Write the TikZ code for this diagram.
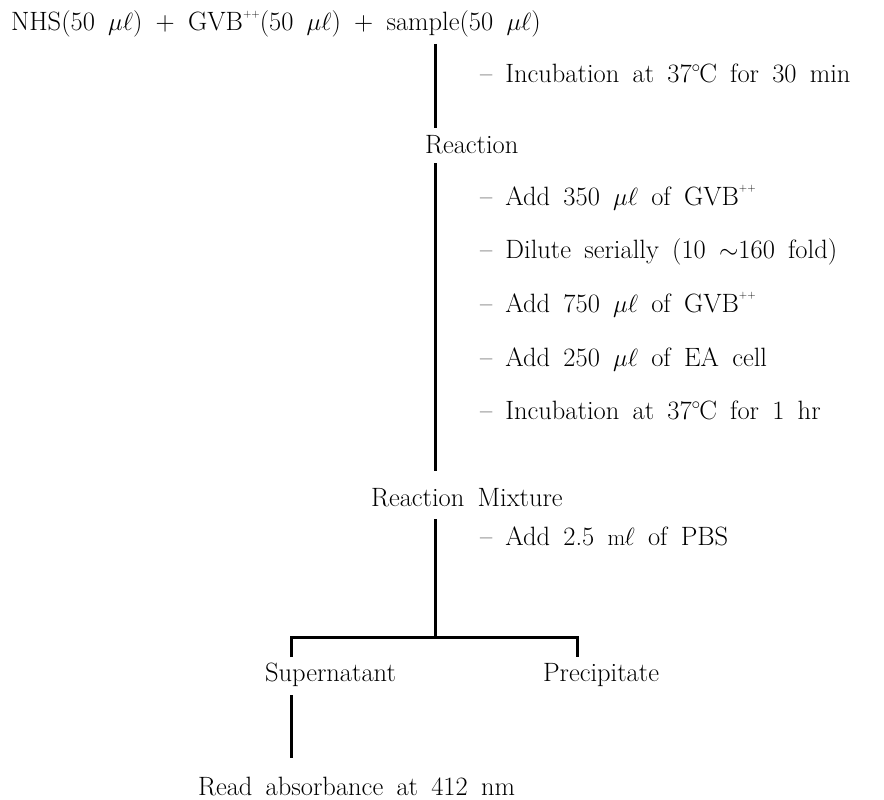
\documentclass[tikz,border=0pt]{standalone}
\usepackage{fontspec}
\newcommand{\pp}{\raisebox{0.5em}{\fontsize{11}{11}\selectfont ++}}
\newcommand{\mul}{$\mu\ell$}
\newcommand{\degc}{$^{\circ}$\kern-0.06em C}
\newcommand{\mlu}{{\fontsize{23}{23}\selectfont m}\kern-0.03em$\ell$}
\newcommand{\txtfont}{\fontsize{26.5}{30}\selectfont\spaceskip=0.5em plus 0pt minus 0pt\relax}
\begin{document}
\begin{tikzpicture}[x=1pt,y=-1pt,
  txt/.style={anchor=base west,inner sep=0pt,outer sep=0pt,font={\txtfont}},
  bar/.style={line width=3pt}]
\useasboundingbox (0,0) rectangle (884,800);
% texts
\node[txt] (top) at (11,31) {NHS(50 \mul) + GVB\pp(50 \mul) + sample(50 \mul)};
\node[txt] (s1) at (480,82) {-- Incubation at 37\degc{} for 30 min};
\node[txt] (r1) at (425,153) {Reaction};
\node[txt] (s2) at (480,205) {-- Add 350 \mul{} of GVB\pp};
\node[txt] (s3) at (480,258) {-- Dilute serially (10 $\sim$160 fold)};
\node[txt] (s4) at (480,312) {-- Add 750 \mul{} of GVB\pp};
\node[txt] (s5) at (480,366) {-- Add 250 \mul{} of EA cell};
\node[txt] (s6) at (480,419) {-- Incubation at 37\degc{} for 1 hr};
\node[txt] (rm) at (371,506) {Reaction Mixture};
\node[txt] (s7) at (480,545) {-- Add 2.5 \mlu{} of PBS};
\node[txt] (sup) at (265,681) {Supernatant};
\node[txt] (pre) at (543,681) {Precipitate};
\node[txt] (rd) at (198,795) {Read absorbance at 412 nm};
% connector points
\coordinate (a1) at (435,44);  \coordinate (b1) at (435,128);
\coordinate (a2) at (435,163); \coordinate (b2) at (435,471);
\coordinate (a3) at (435,519); \coordinate (b3) at (435,637);
\coordinate (hl) at (291,637); \coordinate (hr) at (577,637);
\coordinate (tl) at (291,657); \coordinate (tr) at (577,657);
\coordinate (a4) at (291,695); \coordinate (b4) at (291,758);
% connectors
\draw[bar] (a1) -- (b1);
\draw[bar] (a2) -- (b2);
\draw[bar] (a3) -- (b3);
\draw[bar] (tl) -- (hl) -- (hr) -- (tr);
\draw[bar] (a4) -- (b4);
\end{tikzpicture}
\end{document}
